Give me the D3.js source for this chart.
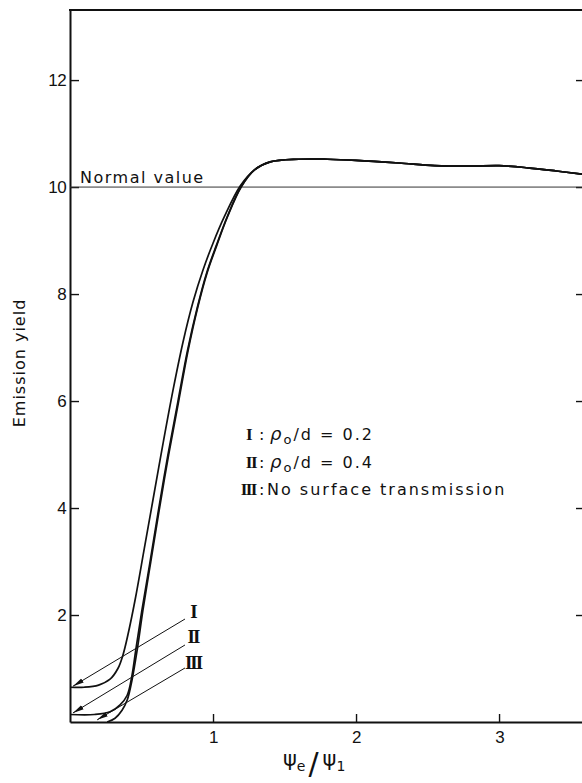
<!DOCTYPE html>
<html>
<head>
<meta charset="utf-8">
<script src="https://cdn.jsdelivr.net/npm/d3@7"></script>
<style>
  body { margin: 0; background: #fff; }
  svg { display: block; }
  text { fill: #111; }
</style>
</head>
<body>
<script>
// emission yield against psi_e / psi_1
// upper branch shared by all three curves (they coincide above ~10)
var upperBranch = [[1.29, 10.32], [1.4, 10.47], [1.6, 10.52], [1.8, 10.52], [2.0, 10.5],
  [2.3, 10.45], [2.55, 10.4], [2.8, 10.39], [3.0, 10.4], [3.2, 10.36], [3.4, 10.3], [3.58, 10.24]];
var curveI = [[0, 0.65], [0.1, 0.65], [0.2, 0.69], [0.28, 0.8], [0.335, 1.0], [0.37, 1.25],
  [0.405, 1.63], [0.455, 2.28], [0.52, 3.25], [0.58, 4.15], [0.65, 5.2], [0.72, 6.2],
  [0.79, 7.1], [0.86, 7.85], [0.93, 8.45], [1.0, 8.95], [1.08, 9.45], [1.19, 10.02]];
var curveII = [[0, 0.14], [0.17, 0.14], [0.28, 0.19], [0.35, 0.32], [0.4, 0.5], [0.434, 0.88],
  [0.46, 1.35], [0.503, 2.09], [0.56, 3.0], [0.618, 3.95], [0.685, 5.0], [0.755, 6.0],
  [0.822, 6.95], [0.89, 7.75], [0.956, 8.4], [1.022, 8.9], [1.1, 9.45], [1.195, 10.0]];
var curveIII = [[0.26, 0], [0.315, 0.07], [0.364, 0.22], [0.4, 0.41], [0.434, 0.79], [0.47, 1.35],
  [0.51, 2.09], [0.565, 3.0], [0.623, 3.95], [0.69, 5.0], [0.76, 6.0], [0.826, 6.95],
  [0.893, 7.75], [0.959, 8.4], [1.025, 8.9], [1.102, 9.45], [1.197, 10.0]];
var normalValue = 10;
var yTicks = [2, 4, 6, 8, 10, 12];
var xTicks = [1, 2, 3];
var xMax = 3.58, yMax = 13.31;

// pointer lines from the roman numerals to the curve starts (data units)
var pointers = [
  { label: "I",   labelAt: [0.86, 2.06], from: [0.804, 1.925], to: [0.021, 0.67] },
  { label: "II",  labelAt: [0.86, 1.61], from: [0.804, 1.44],  to: [0.021, 0.17] },
  { label: "III", labelAt: [0.86, 1.12], from: [0.804, 1.01],  to: [0.19, 0.04] }
];
var legendRows = [
  { num: "I",   kind: "rho", value: "0.2" },
  { num: "II",  kind: "rho", value: "0.4" },
  { num: "III", kind: "text", value: "No surface transmission" }
];

var width = 582, height = 783;
var svg = d3.select("body").append("svg")
  .attr("width", width)
  .attr("height", height);

var x = d3.scaleLinear().domain([0, xMax]).range([70, 582]);
var y = d3.scaleLinear().domain([0, yMax]).range([722, 10]);

var defs = svg.append("defs");
defs.append("marker")
  .attr("id", "arrow")
  .attr("markerUnits", "userSpaceOnUse")
  .attr("markerWidth", 11)
  .attr("markerHeight", 6)
  .attr("refX", 11)
  .attr("refY", 3)
  .attr("orient", "auto")
  .append("path")
  .attr("d", "M0,0.6 L11,3 L0,5.4 Z")
  .attr("fill", "#111");

// axes
var yAxis = svg.append("g")
  .attr("transform", "translate(" + x(0) + ",0)")
  .call(d3.axisLeft(y).tickValues(yTicks).tickSizeInner(-9).tickSizeOuter(0).tickPadding(4));
var xAxis = svg.append("g")
  .attr("transform", "translate(0," + y(0) + ")")
  .call(d3.axisBottom(x).tickValues(xTicks).tickFormat(d3.format("d"))
    .tickSizeInner(-8).tickSizeOuter(0).tickPadding(9));
var rAxis = svg.append("g")
  .attr("transform", "translate(" + x(xMax) + ",0)")
  .call(d3.axisRight(y).tickValues(yTicks).tickSizeInner(-6).tickSizeOuter(0).tickFormat(""));
rAxis.select(".domain").remove();

[yAxis, xAxis].forEach(function (g) {
  g.select(".domain").attr("stroke", "#111").attr("stroke-width", 2);
});
svg.selectAll(".tick line").attr("stroke", "#111").attr("stroke-width", 1.4);
svg.selectAll(".tick text")
  .attr("font-family", "Liberation Sans, Arial, sans-serif")
  .attr("font-size", 17)
  .attr("letter-spacing", -0.6)
  .attr("fill", "#111");

// top frame
svg.append("line")
  .attr("x1", x(0) - 1).attr("x2", x(xMax))
  .attr("y1", y(yMax)).attr("y2", y(yMax))
  .attr("stroke", "#111").attr("stroke-width", 2);

// normal value reference line
svg.append("line")
  .attr("x1", x(0)).attr("x2", x(xMax))
  .attr("y1", y(normalValue)).attr("y2", y(normalValue))
  .attr("stroke", "#333").attr("stroke-width", 1);
svg.append("text")
  .attr("x", x(0) + 10)
  .attr("y", y(normalValue) - 4)
  .attr("font-family", "DejaVu Sans, sans-serif")
  .attr("font-size", 16)
  .attr("letter-spacing", 1.5)
  .text("Normal value");

// curves
var line = d3.line()
  .x(function (d) { return x(d[0]); })
  .y(function (d) { return y(d[1]); })
  .curve(d3.curveCatmullRom.alpha(0.5));

[curveI, curveII, curveIII].forEach(function (c) {
  svg.append("path")
    .attr("d", line(c.concat(upperBranch)))
    .attr("fill", "none")
    .attr("stroke", "#111")
    .attr("stroke-width", 1.7);
});

// pointers
pointers.forEach(function (p) {
  svg.append("line")
    .attr("x1", x(p.from[0])).attr("y1", y(p.from[1]))
    .attr("x2", x(p.to[0])).attr("y2", y(p.to[1]))
    .attr("stroke", "#111").attr("stroke-width", 1)
    .attr("marker-end", "url(#arrow)");
  svg.append("text")
    .attr("x", x(p.labelAt[0]))
    .attr("y", y(p.labelAt[1]))
    .attr("dy", "0.35em")
    .attr("text-anchor", "middle")
    .attr("font-family", "Liberation Serif, serif")
    .attr("font-weight", "bold")
    .attr("font-size", 19)
    .attr("letter-spacing", -2)
    .text(p.label);
});

// legend
var legend = svg.append("g").attr("transform", "translate(256,440)");
legendRows.forEach(function (r, i) {
  var row = legend.append("g").attr("transform", "translate(0," + (i * 27.5) + ")");
  row.append("text")
    .attr("x", r.num === "I" ? -5 : 0)
    .attr("text-anchor", "end")
    .attr("font-family", "Liberation Serif, serif")
    .attr("font-weight", "bold")
    .attr("font-size", 17)
    .attr("letter-spacing", -1.5)
    .text(r.num);
  row.append("text")
    .attr("x", 3)
    .attr("font-family", "DejaVu Sans, sans-serif")
    .attr("font-size", 16)
    .text(":");
  var t = row.append("text")
    .attr("x", r.kind === "rho" ? 14 : 11)
    .attr("font-family", "DejaVu Sans, sans-serif")
    .attr("font-size", 16)
    .attr("letter-spacing", 2);
  if (r.kind === "rho") {
    t.append("tspan").attr("font-style", "italic").attr("font-size", 18).text("ρ");
    t.append("tspan").attr("dy", 4).attr("font-size", 13).text("o");
    t.append("tspan").attr("dy", -4).text("/d = " + r.value);
  } else {
    t.text(r.value);
  }
});

// axis titles
svg.append("text")
  .attr("transform", "translate(25,363) rotate(-90)")
  .attr("text-anchor", "middle")
  .attr("font-family", "DejaVu Sans, sans-serif")
  .attr("font-size", 16)
  .attr("letter-spacing", 1)
  .text("Emission yield");

var xt = svg.append("text")
  .attr("x", 283)
  .attr("y", 766)
  .attr("font-family", "DejaVu Sans, sans-serif")
  .attr("font-size", 21);
xt.append("tspan").text("ψ");
xt.append("tspan").attr("font-size", 14).attr("dy", 5).text("e");
xt.append("tspan").attr("font-size", 30).attr("dy", 3).attr("dx", 3).text("/");
xt.append("tspan").attr("dy", -8).attr("dx", 4).text("ψ");
xt.append("tspan").attr("font-size", 14).attr("dy", 5).text("1");
</script>
</body>
</html>
